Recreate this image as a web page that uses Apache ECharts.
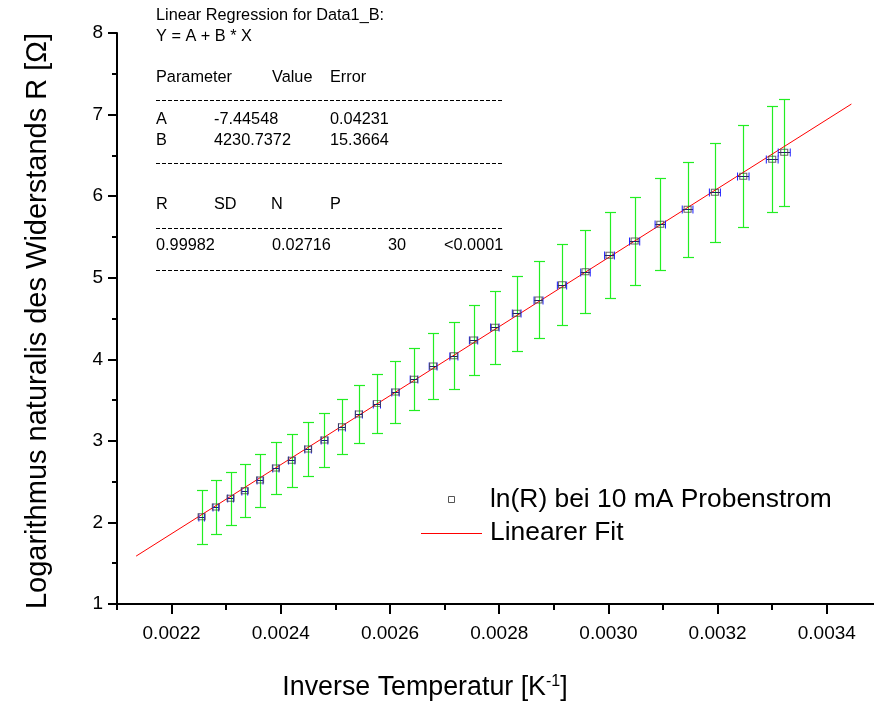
<!DOCTYPE html>
<html>
<head>
<meta charset="utf-8">
<script src="https://cdn.jsdelivr.net/npm/echarts@6/dist/echarts.min.js"></script>
<style>html,body{margin:0;padding:0;background:#fff;}#c{width:874px;height:704px;}</style>
</head>
<body>
<div id="c"></div>
<script>
// ---- data ----
var xVals = [0.002255, 0.002281, 0.002308, 0.002334, 0.002362, 0.002391, 0.002420, 0.002450, 0.002480, 0.002512,
             0.002543, 0.002576, 0.002610, 0.002644, 0.002679, 0.002717, 0.002753, 0.002792, 0.002832, 0.002872,
             0.002915, 0.002958, 0.003002, 0.003048, 0.003095, 0.003145, 0.003195, 0.003247, 0.003300, 0.003322];
var yVals = [2.070, 2.189, 2.296, 2.389, 2.520, 2.667, 2.762, 2.900, 3.011, 3.174,
             3.329, 3.456, 3.599, 3.755, 3.918, 4.044, 4.237, 4.392, 4.564, 4.727,
             4.914, 5.074, 5.275, 5.450, 5.655, 5.839, 6.047, 6.243, 6.452, 6.538];
var yErr  = [0.331, 0.331, 0.325, 0.325, 0.325, 0.323, 0.327, 0.331, 0.335, 0.341,
             0.351, 0.362, 0.376, 0.382, 0.402, 0.413, 0.427, 0.444, 0.457, 0.472,
             0.494, 0.507, 0.529, 0.541, 0.564, 0.582, 0.607, 0.625, 0.648, 0.653];
var xErr  = [0.0000051, 0.0000052, 0.0000053, 0.0000054, 0.0000055, 0.0000057, 0.0000058, 0.0000060, 0.0000061, 0.0000063,
             0.0000064, 0.0000066, 0.0000068, 0.0000070, 0.0000072, 0.0000074, 0.0000076, 0.0000078, 0.0000080, 0.0000082,
             0.0000085, 0.0000087, 0.0000090, 0.0000093, 0.0000095, 0.0000098, 0.0000101, 0.0000105, 0.0000108, 0.0000110];
var fitX = [0.002135, 0.003445];
var fitY = [1.587, 7.129];
var xMajorTicks = [0.0022, 0.0024, 0.0026, 0.0028, 0.0030, 0.0032, 0.0034];
var xMinorTicks = [0.0021, 0.0023, 0.0025, 0.0027, 0.0029, 0.0031, 0.0033];
var yTicks = [1, 2, 3, 4, 5, 6, 7, 8];
var seriesNames = ['ln(R) bei 10 mA Probenstrom', 'Linearer Fit'];
var xTitle = 'Inverse Temperatur [K';
var yTitle = 'Logarithmus naturalis des Widerstands R [\u03A9]';
var statHeader = ['Linear Regression for Data1_B:', 'Y = A + B * X'];
var statParamHead = ['Parameter', 'Value', 'Error'];
var statRowA = ['A', '-7.44548', '0.04231'];
var statRowB = ['B', '4230.7372', '15.3664'];
var statHead2 = ['R', 'SD', 'N', 'P'];
var statRow2 = ['0.99982', '0.02716', '30', '<0.0001'];

// ---- build ----
var FONT = '"Liberation Sans", Arial, sans-serif';
var pts = xVals.map(function (x, i) { return [x, yVals[i], yErr[i], xErr[i]]; });
var fitData = fitX.map(function (x, i) { return [x, fitY[i]]; });

function crisp(v) { return Math.round(v) + 0.5; }

var chart = echarts.init(document.getElementById('c'), null, { renderer: 'canvas' });

function txt(x, y, s, size, extra) {
  var o = { type: 'text', x: x, y: y, style: { text: s, fill: '#000', font: size + 'px ' + FONT, textVerticalAlign: 'middle', textAlign: 'left' }, silent: true };
  if (extra) for (var k in extra) o[k] = extra[k];
  return o;
}
function dash(y) {
  return { type: 'line', shape: { x1: 156, y1: y + 0.5, x2: 502, y2: y + 0.5 }, style: { stroke: '#000', lineWidth: 1, lineDash: [4, 2] }, silent: true };
}

var SF = 16.3;
var LF = 26.4;
var graphics = [
  txt(156, 16, statHeader[0], SF),
  txt(156, 37, statHeader[1], SF),
  txt(156, 78, statParamHead[0], SF), txt(272, 78, statParamHead[1], SF), txt(330, 78, statParamHead[2], SF),
  dash(100),
  txt(156, 120, statRowA[0], SF), txt(214, 120, statRowA[1], SF), txt(330, 120, statRowA[2], SF),
  txt(156, 141, statRowB[0], SF), txt(214, 141, statRowB[1], SF), txt(330, 141, statRowB[2], SF),
  dash(163),
  txt(156, 205, statHead2[0], SF), txt(214, 205, statHead2[1], SF), txt(271, 205, statHead2[2], SF), txt(330, 205, statHead2[3], SF),
  dash(228),
  txt(156, 246, statRow2[0], SF), txt(272, 246, statRow2[1], SF), txt(388, 246, statRow2[2], SF), txt(444, 246, statRow2[3], SF),
  dash(270),
  // legend
  { type: 'rect', shape: { x: 448.5, y: 496.5, width: 6, height: 6 }, style: { fill: 'none', stroke: '#555', lineWidth: 1 }, silent: true },
  txt(490, 500, seriesNames[0], LF),
  { type: 'line', shape: { x1: 421, y1: 533.5, x2: 482, y2: 533.5 }, style: { stroke: '#ff0000', lineWidth: 1 }, silent: true },
  txt(490, 533, seriesNames[1], LF),
  // axis titles
  {
    type: 'text', x: 425, y: 688, silent: true,
    style: {
      text: '{a|' + xTitle + '}{s|-1}{a|]}',
      textAlign: 'center', textVerticalAlign: 'middle',
      rich: {
        a: { font: '26.8px ' + FONT, fill: '#000' },
        s: { font: '16px ' + FONT, fill: '#000', padding: [0, 0, 13, 0] }
      }
    }
  },
  {
    type: 'text', x: 38, y: 321, rotation: Math.PI / 2, silent: true,
    style: { text: yTitle, font: '29px ' + FONT, fill: '#000', textAlign: 'center', textVerticalAlign: 'middle' }
  }
];

var option = {
  backgroundColor: '#fff',
  animation: false,
  grid: { left: 117, right: 0, top: 33, bottom: 100, containLabel: false },
  xAxis: [{
    type: 'value', min: 0.0021, max: 0.0034864, position: 'bottom',
    axisLine: { show: true, onZero: false, lineStyle: { color: '#000', width: 2 } },
    axisTick: { show: true, inside: false, length: 10, lineStyle: { color: '#000', width: 2 }, customValues: xMajorTicks },
    axisLabel: { show: true, customValues: xMajorTicks, margin: 20, color: '#000', fontSize: 19, fontFamily: FONT,
      formatter: function (v) { return v.toFixed(4); } },
    splitLine: { show: false }
  }, {
    type: 'value', min: 0.0021, max: 0.0034864, position: 'bottom', offset: 0,
    axisLine: { show: false, onZero: false },
    axisTick: { show: true, inside: false, length: 6, lineStyle: { color: '#000', width: 2 }, customValues: xMinorTicks },
    axisLabel: { show: false },
    splitLine: { show: false }
  }],
  yAxis: {
    type: 'value', min: 1, max: 8, interval: 1,
    axisLine: { show: true, onZero: false, lineStyle: { color: '#000', width: 2 } },
    axisTick: { show: true, inside: false, length: 9, lineStyle: { color: '#000', width: 2 } },
    minorTick: { show: true, splitNumber: 2, length: 5, lineStyle: { color: '#000', width: 2 } },
    axisLabel: { margin: 14, color: '#000', fontSize: 19, fontFamily: FONT },
    splitLine: { show: false }
  },
  series: [
    {
      name: 'yerr', type: 'custom', xAxisIndex: 0, data: pts, z: 1, silent: true,
      renderItem: function (params, api) {
        var x = api.value(0), y = api.value(1), e = api.value(2);
        var t = api.coord([x, y + e]), b = api.coord([x, y - e]);
        var cx = crisp(t[0]), ty = crisp(t[1]), by = crisp(b[1]);
        var st = { stroke: '#22ee22', lineWidth: 1.2 };
        return { type: 'group', children: [
          { type: 'line', shape: { x1: cx, y1: ty, x2: cx, y2: by }, style: st },
          { type: 'line', shape: { x1: cx - 5.5, y1: ty, x2: cx + 5.5, y2: ty }, style: st },
          { type: 'line', shape: { x1: cx - 5.5, y1: by, x2: cx + 5.5, y2: by }, style: st }
        ] };
      }
    },
    {
      name: seriesNames[1], type: 'line', data: fitData, showSymbol: false, symbol: 'none', z: 2,
      lineStyle: { color: '#ff0000', width: 1 }, silent: true
    },
    {
      name: 'xerr', type: 'custom', data: pts, z: 3, silent: true,
      renderItem: function (params, api) {
        var x = api.value(0), y = api.value(1), e = api.value(3);
        var l = api.coord([x - e, y]), r = api.coord([x + e, y]);
        var cy = crisp(l[1]);
        var st = { stroke: '#1a1aff', lineWidth: 1 };
        return { type: 'group', children: [
          { type: 'line', shape: { x1: l[0], y1: cy, x2: r[0], y2: cy }, style: { stroke: '#222266', lineWidth: 1 } },
          { type: 'line', shape: { x1: l[0], y1: cy - 4, x2: l[0], y2: cy + 4 }, style: st },
          { type: 'line', shape: { x1: r[0], y1: cy - 4, x2: r[0], y2: cy + 4 }, style: st }
        ] };
      }
    },
    {
      name: seriesNames[0], type: 'scatter', data: pts.map(function (p) { return [p[0], p[1]]; }), z: 4,
      symbol: 'rect', symbolSize: [7, 6],
      itemStyle: { color: 'rgba(0,0,0,0)', borderColor: '#444', borderWidth: 1 }, silent: true
    }
  ],
  graphic: graphics
};
chart.setOption(option);
</script>
</body>
</html>
